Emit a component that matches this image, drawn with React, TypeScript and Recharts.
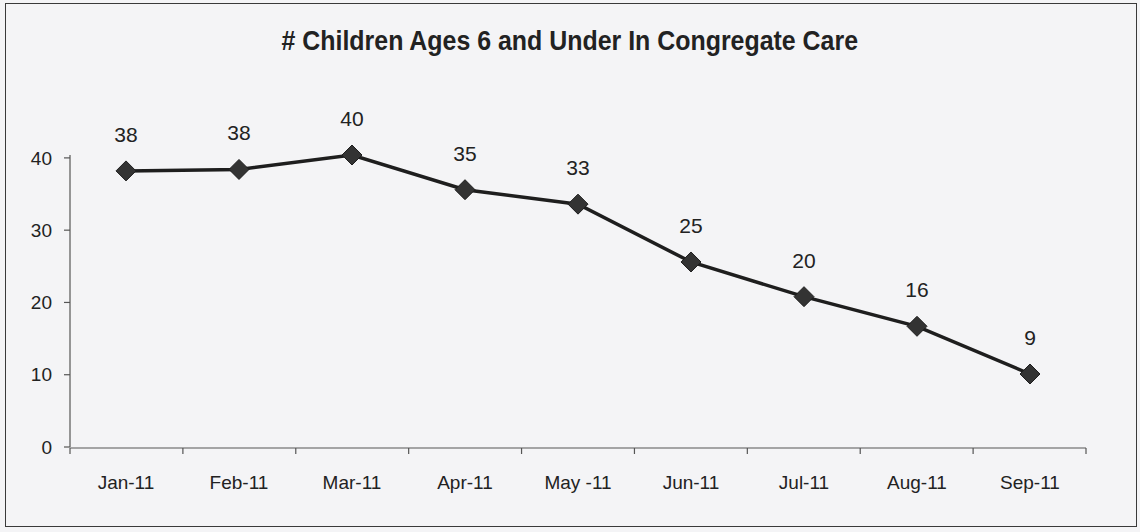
import { LineChart, Line, XAxis, YAxis, LabelList } from "recharts";

const months = ["Jan-11", "Feb-11", "Mar-11", "Apr-11", "May -11", "Jun-11", "Jul-11", "Aug-11", "Sep-11"];
// plotted heights; the printed labels are shown separately
const counts = [38.2, 38.4, 40.4, 35.6, 33.6, 25.6, 20.8, 16.7, 10.1];
const printed = [38, 38, 40, 35, 33, 25, 20, 16, 9];
const yTicks = [0, 10, 20, 30, 40];
// category boundaries, where the x-axis tick marks sit
const boundaryTicks = [-0.5, 0.5, 1.5, 2.5, 3.5, 4.5, 5.5, 6.5, 7.5, 8.5];

const data = months.map((m, i) => ({ month: m, slot: i, count: counts[i], label: printed[i] }));

const font = '"Liberation Sans", Arial, sans-serif';
const ink = "#222";
const axisStroke = { stroke: "#555", strokeWidth: 1.2 };

function Diamond(props: any) {
  const { cx, cy } = props;
  if (cx == null || cy == null) return null;
  const r = 10;
  return (
    <polygon
      points={`${cx},${cy - r} ${cx + r},${cy} ${cx},${cy + r} ${cx - r},${cy}`}
      fill="#333"
      stroke="#1e1e1e"
      strokeWidth={1}
    />
  );
}

const NoLabel = () => <g />;

export default function App() {
  return (
    <div style={{ position: "absolute", left: 0, top: 0, width: 1140, height: 532, background: "#f4f4f6", fontFamily: font }}>
      <div
        style={{
          position: "absolute",
          left: 5,
          top: 3,
          width: 1130,
          height: 522,
          border: "1.5px solid #3a3a3a",
        }}
      />
      <div
        style={{
          position: "absolute",
          left: 0,
          top: 25,
          width: 1140,
          textAlign: "center",
          fontFamily: font,
          fontWeight: "bold",
          fontSize: 28,
          color: ink,
          transform: "scaleX(0.89)",
          transformOrigin: "568px 0",
        }}
      >
        # Children Ages 6 and Under In Congregate Care
      </div>
      <div style={{ position: "absolute", left: 0, top: 0 }}>
        <LineChart width={1140} height={532} data={data} margin={{ top: 155, right: 54, bottom: 83, left: 20 }}>
          <XAxis
            dataKey="month"
            height={1}
            padding={{ left: 56, right: 56 }}
            axisLine={false}
            tickLine={false}
            tickSize={0}
            tickMargin={29}
            interval={0}
            tick={{ fontSize: 19, fill: ink, fontFamily: font }}
          />
          <XAxis
            xAxisId="edges"
            dataKey="slot"
            type="number"
            domain={[-0.5, 8.5]}
            allowDataOverflow
            ticks={boundaryTicks}
            interval={0}
            tick={NoLabel}
            height={1}
            axisLine={axisStroke}
            tickLine={axisStroke}
            tickSize={6}
          />
          <YAxis
            width={50}
            domain={[0, 40]}
            ticks={yTicks}
            axisLine={axisStroke}
            tickLine={axisStroke}
            tickSize={6}
            tickMargin={12}
            tick={{ fontSize: 19, fill: ink, fontFamily: font }}
          />
          <Line
            dataKey="count"
            stroke="#1e1e1e"
            strokeWidth={3.5}
            dot={<Diamond />}
            activeDot={false}
            isAnimationActive={false}
          >
            <LabelList dataKey="label" position="top" offset={29} fontSize={21} fill={ink} fontFamily={font} />
          </Line>
        </LineChart>
      </div>
    </div>
  );
}
